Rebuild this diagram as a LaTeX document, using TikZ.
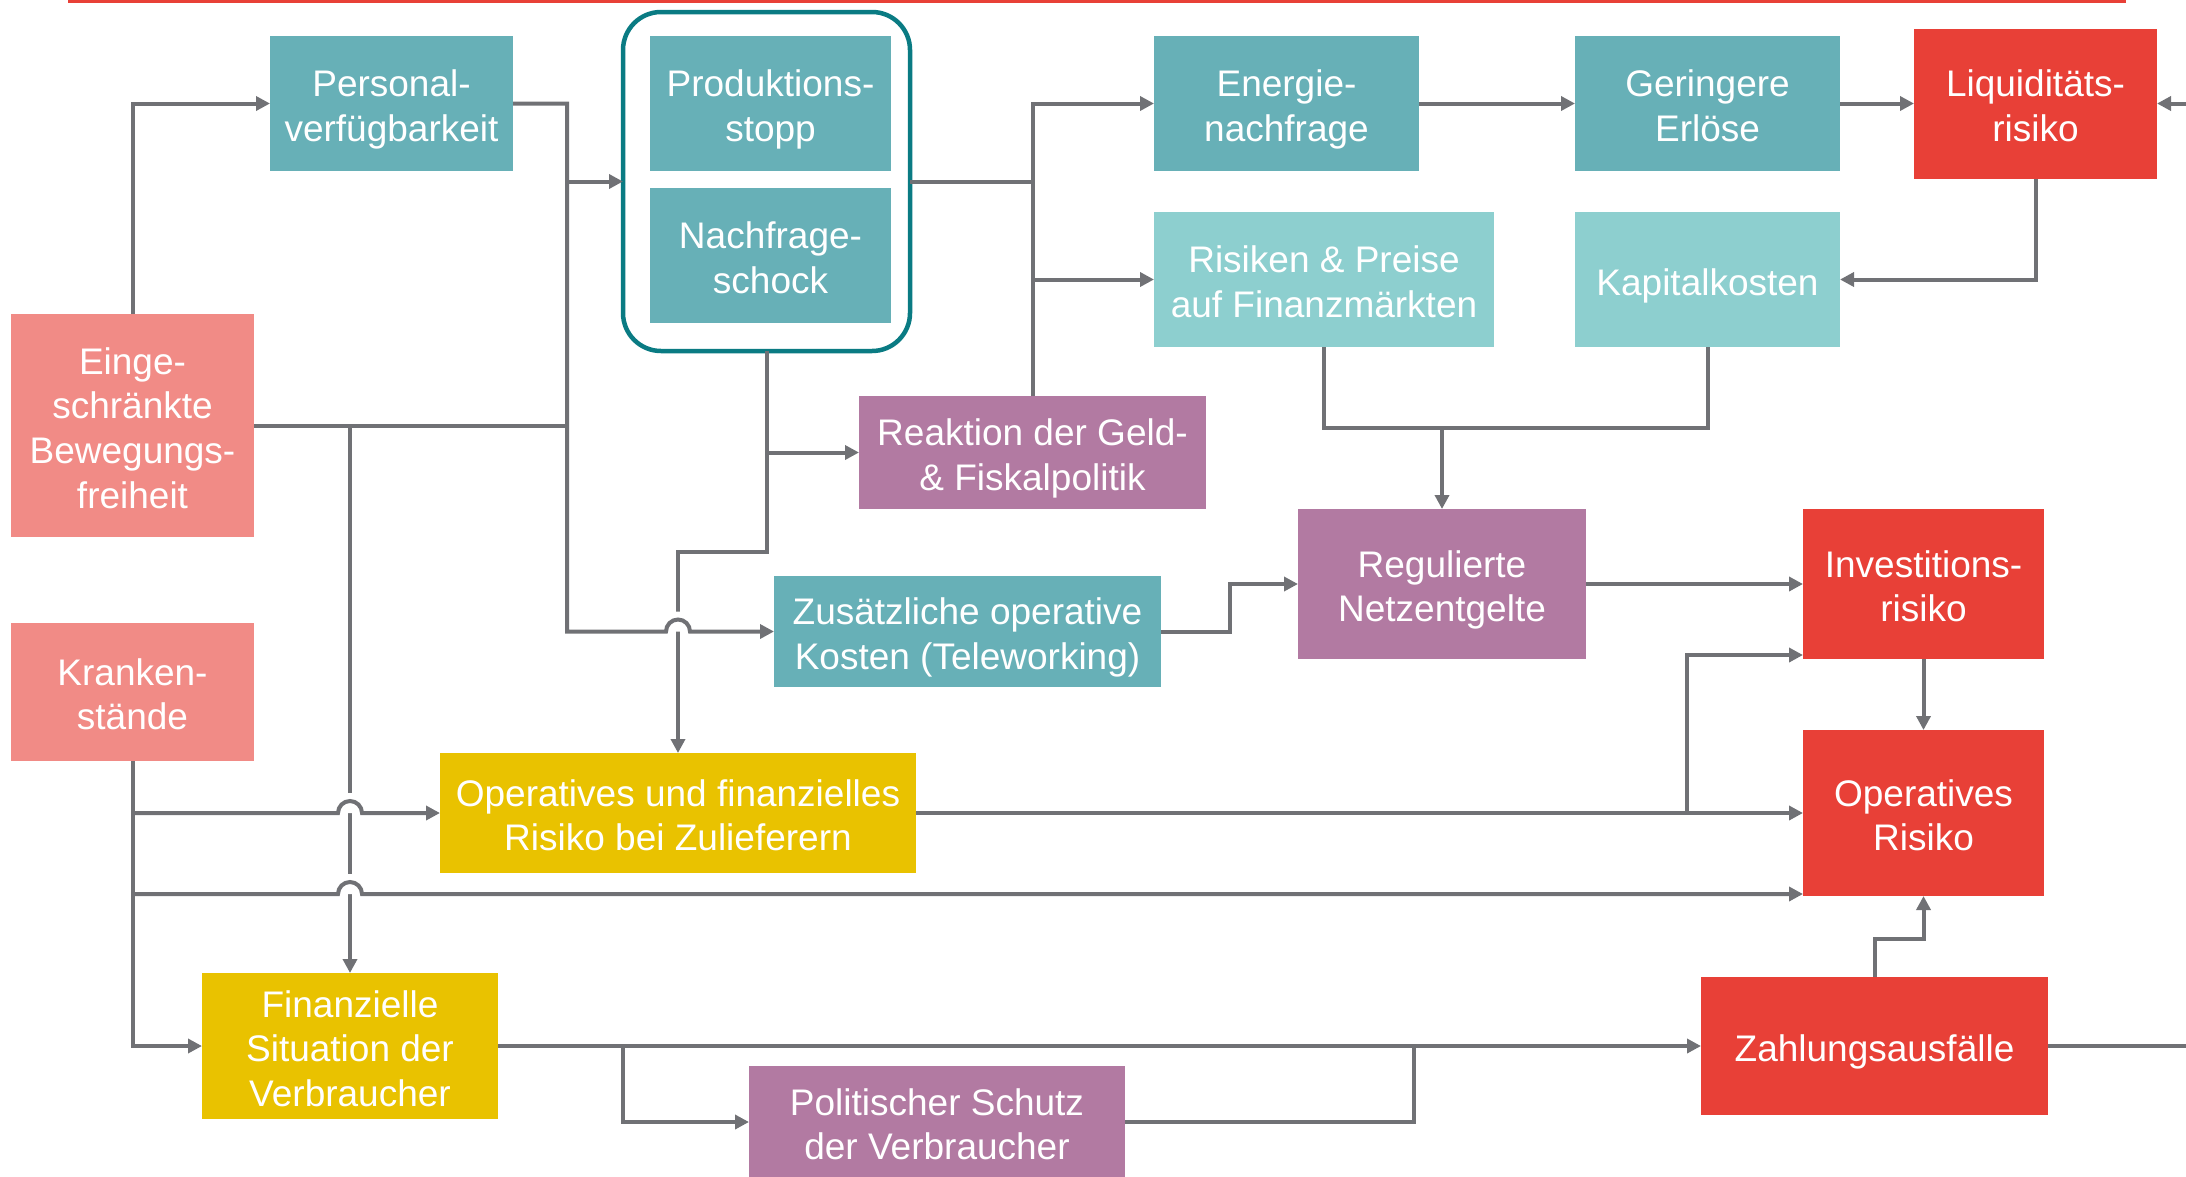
\documentclass[tikz,border=0pt]{standalone}
\usepackage{fontspec}
\setmainfont{Liberation Sans}
\usetikzlibrary{arrows.meta,calc}
\definecolor{tealA}{HTML}{67B0B7}
\definecolor{tealL}{HTML}{8DCFCF}
\definecolor{purp}{HTML}{B27AA2}
\definecolor{redc}{HTML}{E84037}
\definecolor{salm}{HTML}{F18B86}
\definecolor{yell}{HTML}{E9C200}
\definecolor{linegrey}{HTML}{707175}
\definecolor{framec}{HTML}{0A7B83}
\newcommand\bs{\rule{0pt}{39pt}}
\newcommand\be{\rule[-7.8pt]{0pt}{7.8pt}}
\begin{document}
\begin{tikzpicture}[x=1pt,y=1pt,
  box/.style={inner sep=0pt, outer sep=0pt, text=white, align=center,
    font=\fontsize{37}{44.6}\selectfont},
  sz/.style 2 args={minimum width=#1pt, minimum height=#2pt},
  conn/.style={draw=linegrey, line width=4pt},
  arr/.style={conn, -{Triangle[length=14pt,width=14pt]}},
  hopfill/.style={fill=white}]
\useasboundingbox (0,0) rectangle (2186,-1176);

% top red rule
\draw[redc, line width=3pt] (68,-1.5) -- (2126,-1.5);

% nodes
\node[box, fill=tealA, sz={243}{135}] (pers) at (391.5,-103.5) {\bs Personal-\\verfügbarkeit\be};
\node[box, fill=tealA, sz={241}{135}] (prod) at (770.5,-103.5) {\bs Produktions-\\stopp\be};
\node[box, fill=tealA, sz={241}{135}] (nach) at (770.5,-255.5) {\bs Nachfrage-\\schock\be};
\node[draw=framec, line width=4.5pt, rounded corners=38pt, inner sep=0pt, outer sep=0pt, sz={287}{339}] (frame) at (766.5,-181.5) {};
\node[box, fill=tealA, sz={265}{135}] (ener) at (1286.5,-103.5) {\bs Energie-\\nachfrage\be};
\node[box, fill=tealA, sz={265}{135}] (geri) at (1707.5,-103.5) {\bs Geringere\\Erlöse\be};
\node[box, fill=redc, sz={243}{150}] (liq) at (2035.5,-103.5) {\bs Liquiditäts-\\risiko\be};
\node[box, fill=tealL, sz={340}{135}] (risk) at (1324,-279.5) {\bs Risiken \& Preise\\auf Finanzmärkten\be};
\node[box, fill=tealL, sz={265}{135}] (kap) at (1707.5,-279.5) {\bs Kapitalkosten\be};
\node[box, fill=purp, sz={347}{113}] (reak) at (1032.5,-452.5) {\bs Reaktion der Geld-\\\& Fiskalpolitik\be};
\node[box, fill=salm, sz={243}{223}] (eing) at (132.5,-425.5) {\bs Einge-\\schränkte\\Bewegungs-\\freiheit\be};
\node[box, fill=salm, sz={243}{138}] (kran) at (132.5,-692) {\bs Kranken-\\stände\be};
\node[box, fill=tealA, sz={387}{111}] (zus) at (967.5,-631.5) {\bs Zusätzliche operative\\Kosten (Teleworking)\be};
\node[box, fill=purp, sz={288}{150}] (reg) at (1442,-584) {\bs Regulierte\\Netzentgelte\be};
\node[box, fill=redc, sz={241}{150}] (inv) at (1923.5,-584) {\bs Investitions-\\risiko\be};
\node[box, fill=redc, sz={241}{166}] (oprisk) at (1923.5,-813) {\bs Operatives\\Risiko\be};
\node[box, fill=yell, sz={476}{120}] (zul) at (678,-813) {\bs Operatives und finanzielles\\Risiko bei Zulieferern\be};
\node[box, fill=yell, sz={296}{146}] (fin) at (350,-1046) {\bs Finanzielle\\Situation der\\Verbraucher\be};
\node[box, fill=purp, sz={376}{112}] (pol) at (937,-1122) {\bs Politischer Schutz\\der Verbraucher\be};
\node[box, fill=redc, sz={347}{138}] (zahl) at (1874.5,-1046) {\bs Zahlungsausfälle\be};

% junction coordinates
\coordinate (jA) at (567,-103.5);
\coordinate (jB) at (567,-631.5);
\coordinate (jC) at (567,-181.5);
\coordinate (jD) at (567,-425.5);
\coordinate (jE) at (350,-425.5);
\coordinate (jF) at (766.5,-552);
\coordinate (jG) at (678,-552);
\coordinate (jH) at (766.5,-452.5);
\coordinate (jI) at (1032.5,-181.5);
\coordinate (jJ) at (1032.5,-279.5);
\coordinate (jK) at (1230,-631.5);
\coordinate (jL) at (1324,-428);
\coordinate (jM) at (1707.5,-428);
\coordinate (jN) at (1442,-428);
\coordinate (jO) at (1687,-813);
\coordinate (jP) at (1803,-655);
\coordinate (jQ) at (132.5,-1046);
\coordinate (jR) at (132.5,-813);
\coordinate (jS) at (132.5,-894);
\coordinate (jT) at (1803,-894);
\coordinate (jU) at (623,-1046);
\coordinate (jV) at (1414,-1122);
\coordinate (jW) at (1414,-1046);
\coordinate (jX) at (2186,-1046);
\coordinate (jY) at (1875,-977);
\coordinate (jZ) at (2186,-103.5);

% vertical lines that are crossed (drawn first)
\draw[arr] (jE) -- (fin.north);
\draw[arr] (frame.south) -- (jF) -- (jG) -- (zul.north);

% white gaps above crossings
\fill[hopfill] (658,-631.5) arc[start angle=180,end angle=0,radius=20] -- cycle;
\fill[hopfill] (330,-813) arc[start angle=180,end angle=0,radius=20] -- cycle;
\fill[hopfill] (330,-894) arc[start angle=180,end angle=0,radius=20] -- cycle;

% connectors
\draw[arr] (eing.north) |- (pers.west);
\draw[arr] (pers.east) -- (jA) -- (jB) -- (666,-631.5) arc[start angle=180,end angle=0,radius=12] -- (zus.west);
\draw[arr] (jC) -- (frame.west);
\draw[conn] (eing.east) -- (jD);
\draw[arr] (jH) -- (reak.west);
\draw[conn] (frame.east) -- (jI);
\draw[arr] (reak.north) |- (ener.west);
\draw[arr] (jJ) -- (risk.west);
\draw[arr] (ener.east) -- (geri.west);
\draw[arr] (geri.east) -- (liq.west);
\draw[arr] (jZ) -- (liq.east);
\draw[arr] (liq.south) |- (kap.east);
\draw[conn] (risk.south) -- (jL) -- (jM) -- (kap.south);
\draw[arr] (jN) -- (reg.north);
\draw[arr] (zus.east) -- (jK) |- (reg.west);
\draw[arr] (reg.east) -- (inv.west);
\draw[arr] (inv.south) -- (oprisk.north);
\draw[arr] (zul.east) -- (zul.east -| oprisk.west);
\draw[arr] (jO) |- (jP);
\draw[arr] (kran.south) -- (jQ) -- (fin.west);
\draw[arr] (jR) -- (338,-813) arc[start angle=180,end angle=0,radius=12] -- (zul.west);
\draw[arr] (jS) -- (338,-894) arc[start angle=180,end angle=0,radius=12] -- (jT);
\draw[arr] (fin.east) -- (zahl.west);
\draw[arr] (jU) |- (pol.west);
\draw[conn] (pol.east) -- (jV) -- (jW);
\draw[conn] (zahl.east) -- (jX);
\draw[arr] (jY) -- (1875,-939) -| (oprisk.south);
\end{tikzpicture}
\end{document}
